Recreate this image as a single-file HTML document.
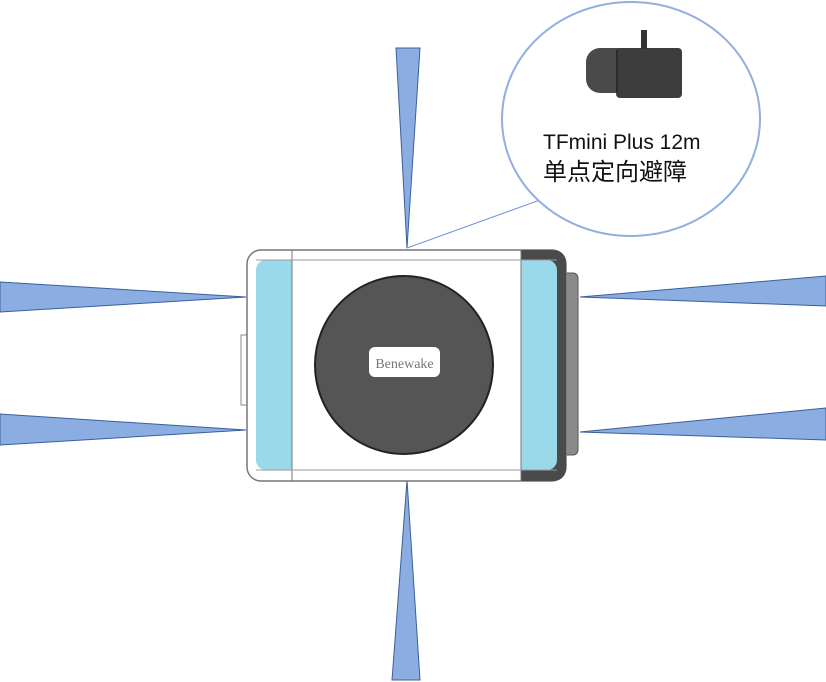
<!DOCTYPE html>
<html><head><meta charset="utf-8"><style>
html,body{margin:0;padding:0;background:#fff;width:826px;height:682px;overflow:hidden}
</style></head><body>
<svg width="826" height="682" viewBox="0 0 826 682" xmlns="http://www.w3.org/2000/svg">
<g fill="#8badE2" stroke="#3a5f9a" stroke-width="1">
<polygon points="396,48 420,48 407,248"/>
<polygon points="392,680 420,680 407,480"/>
<polygon points="0,282 0,312 246,297"/>
<polygon points="0,414 0,445 246,430"/>
<polygon points="826,276 826,306 580,297"/>
<polygon points="826,408 826,440 580,432"/>
</g>
<line x1="407" y1="248" x2="540" y2="200" stroke="#6f96d4" stroke-width="1"/>
<ellipse cx="631" cy="119" rx="129" ry="117" fill="#fff" stroke="#8fb0e0" stroke-width="2"/>
<!-- sensor -->
<rect x="586" y="48" width="60" height="45" rx="14" fill="#4a4a4a"/>
<rect x="616" y="48" width="66" height="50" rx="4" fill="#3d3d3d"/>
<line x1="617" y1="50" x2="617" y2="92" stroke="#2a2a2a" stroke-width="2"/>
<rect x="641" y="30" width="6" height="19" fill="#333"/>
<text x="543" y="149" font-family="'Liberation Sans','Noto Sans CJK SC',sans-serif" font-size="21" fill="#111">TFmini Plus 12m</text>
<text x="543" y="180" font-family="'Noto Sans CJK SC',sans-serif" font-size="24" fill="#111">单点定向避障</text>
<!-- device -->
<rect x="560" y="273" width="18" height="182" rx="5" fill="#8a8a8a" stroke="#555"/>
<rect x="241" y="335" width="8" height="70" fill="#fff" stroke="#888"/>
<rect x="247" y="250" width="319" height="231" rx="14" fill="#fff" stroke="#777" stroke-width="1.5"/>
<path d="M521 250 H552 Q566 250 566 264 V467 Q566 481 552 481 H521 Z" fill="#4a4a4a"/>
<rect x="256" y="260" width="36" height="210" rx="10" fill="#9ad9ea"/>
<rect x="270" y="260" width="22" height="210" fill="#9ad9ea"/>
<rect x="521" y="260" width="36" height="210" rx="10" fill="#9ad9ea"/>
<rect x="521" y="260" width="22" height="210" fill="#9ad9ea"/>
<line x1="292" y1="250" x2="292" y2="481" stroke="#777"/>
<line x1="521" y1="250" x2="521" y2="481" stroke="#777"/>
<line x1="256" y1="260" x2="557" y2="260" stroke="#999"/>
<line x1="256" y1="470" x2="557" y2="470" stroke="#999"/>
<circle cx="404" cy="365" r="89" fill="#555" stroke="#222" stroke-width="2"/>
<rect x="369" y="347" width="71" height="30" rx="6" fill="#fff"/>
<text x="404.5" y="368" font-family="'Liberation Serif',serif" font-size="14" fill="#777" text-anchor="middle">Benewake</text>
</svg>
</body></html>
